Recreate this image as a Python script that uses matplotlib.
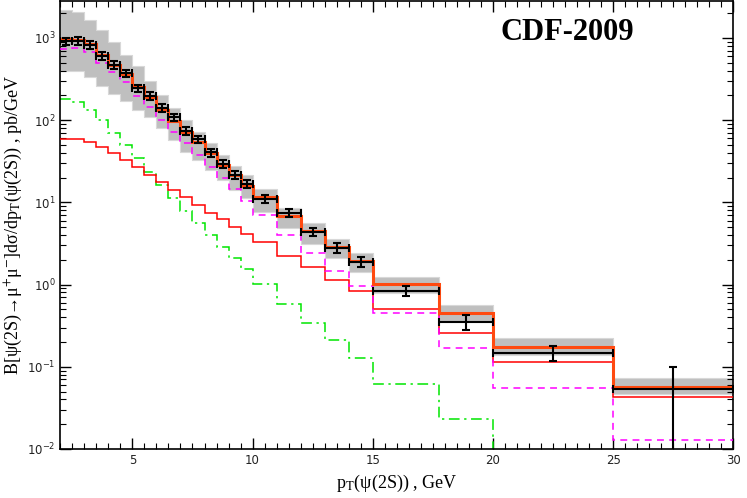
import numpy as np
import matplotlib
matplotlib.use('Agg')
import matplotlib.pyplot as plt
from matplotlib.ticker import MultipleLocator, LogLocator, NullFormatter

# pT bins, GeV
edges = [2, 2.5, 3, 3.5, 4, 4.5, 5, 5.5, 6, 6.5, 7, 7.5, 8, 8.5, 9, 9.5, 10,
         11, 12, 13, 14, 15, 17.75, 20, 25, 30]

# CDF data points and errors, pb/GeV
data = [902, 920, 822, 604, 470, 372, 244, 197, 140, 108, 74.5, 58.6, 40.3,
        29.3, 21.5, 16.7, 11.0, 7.5, 4.4, 2.81, 1.90, 0.843, 0.351, 0.148, 0.0532]
data_err = [95, 97, 86, 63, 49, 39, 26, 21, 15, 11.5, 8, 6.2, 4.3, 3.1, 2.3,
            1.8, 1.2, 0.8, 0.5, 0.37, 0.28, 0.12, 0.07, 0.032, 0.045]

# theory: total and its uncertainty band
total = [959, 946, 845, 621, 470, 365, 251, 190, 133, 97.8, 72.4, 53.8, 39.5,
         28.5, 21.5, 15.8, 11.5, 6.84, 4.49, 2.89, 1.94, 1.01, 0.448, 0.176, 0.0573]
band_hi = [2190, 2055, 1655, 1251, 877, 621, 448, 294, 203, 140, 101, 72.5, 52.4,
           37.7, 27.7, 21.5, 14.6, 8.48, 5.57, 3.59, 2.40, 1.25, 0.565, 0.222, 0.0724]
band_lo = [397, 397, 335, 261, 208, 171, 133, 110, 79.8, 57.4, 41.4, 32.8, 24.8,
           18.7, 14.2, 11.2, 7.7, 4.84, 3.12, 2.09, 1.40, 0.783, 0.361, 0.139, 0.0463]

# theory components
magenta = [735, 745, 665, 495, 385, 288, 198, 146, 100, 72.5, 52, 38, 27, 19.5,
           14.6, 10.4, 7.0, 4.0, 2.4, 1.48, 0.96, 0.455, 0.168, 0.0547, 0.0128]
red = [58.6, 58.6, 54.7, 46.8, 40.2, 32.8, 26.7, 21.5, 17.4, 14.2, 11.5, 9.3, 7.5,
       6.2, 5.06, 4.13, 3.25, 2.23, 1.62, 1.14, 0.836, 0.50, 0.256, 0.114, 0.0426]
green = [179, 165, 131, 98.7, 70.5, 49.9, 34.4, 23.6, 16.3, 11.2, 7.9, 5.66, 4.0,
         2.89, 2.09, 1.54, 1.02, 0.58, 0.344, 0.21, 0.129, 0.0612, 0.023, 0, 0]

edges = np.array(edges)
widths = np.diff(edges)
centers = edges[:-1] + widths / 2

plt.rcParams['mathtext.fontset'] = 'stix'
serif = ['Liberation Serif', 'DejaVu Serif']

fig = plt.figure(figsize=(7.47, 4.98), dpi=100)
ax = fig.add_axes([0.0807, 0.0984, 0.9010, 0.8996])
ax.set_yscale('log')

# uncertainty band (step-wise)
ax.fill_between(edges, np.append(band_lo, band_lo[-1]), np.append(band_hi, band_hi[-1]),
                step='post', facecolor='#bfbfbf', edgecolor='#d8d8d8', linewidth=0.8, zorder=1)

# components
ax.stairs(green, edges, baseline=None, color='#00e600', lw=1.1,
          linestyle=(0, (7, 3, 1.5, 3)), zorder=2)
ax.stairs(red, edges, baseline=None, color='#ff0000', lw=1.1, zorder=3)
ax.stairs(magenta, edges, baseline=None, color='#ff00ff', lw=1.1,
          linestyle=(0, (4.5, 3.5)), zorder=3)
ax.stairs(total, edges, baseline=None, color='#ff4a10', lw=2.2, zorder=4)

# data
ax.errorbar(centers, data, xerr=widths / 2, yerr=data_err, fmt='none',
            ecolor='black', elinewidth=1.5, capsize=2.6, capthick=1.5, zorder=5)

ax.set_xlim(2, 30)
ax.set_ylim(0.01, 2800)
ax.xaxis.set_major_locator(MultipleLocator(5))
ax.xaxis.set_minor_locator(MultipleLocator(0.5))
ax.yaxis.set_minor_locator(LogLocator(base=10, subs=np.arange(2, 10)))
ax.yaxis.set_minor_formatter(NullFormatter())
ax.tick_params(which='both', direction='in', top=True, right=True,
               labelsize=8.5, labelcolor='#222222')
ax.tick_params(which='major', length=8, width=1)
ax.tick_params(which='minor', length=4, width=0.8)
for s in ax.spines.values():
    s.set_linewidth(1.2)

ax.set_xlabel('p$_{\\rm T}$(ψ(2S)) , GeV', fontsize=13, family=serif, labelpad=4)
ax.set_ylabel('B[ψ(2S)→μ$^{+}$μ$^{-}$]dσ/dp$_{\\rm T}$(ψ(2S)) , pb/GeV',
              fontsize=13, family=serif, labelpad=2)
ax.text(0.754, 0.93, 'CDF-2009', transform=ax.transAxes, fontsize=22,
        fontweight='bold', family=serif, ha='center', va='center')

fig.savefig('out.png', dpi=100)
